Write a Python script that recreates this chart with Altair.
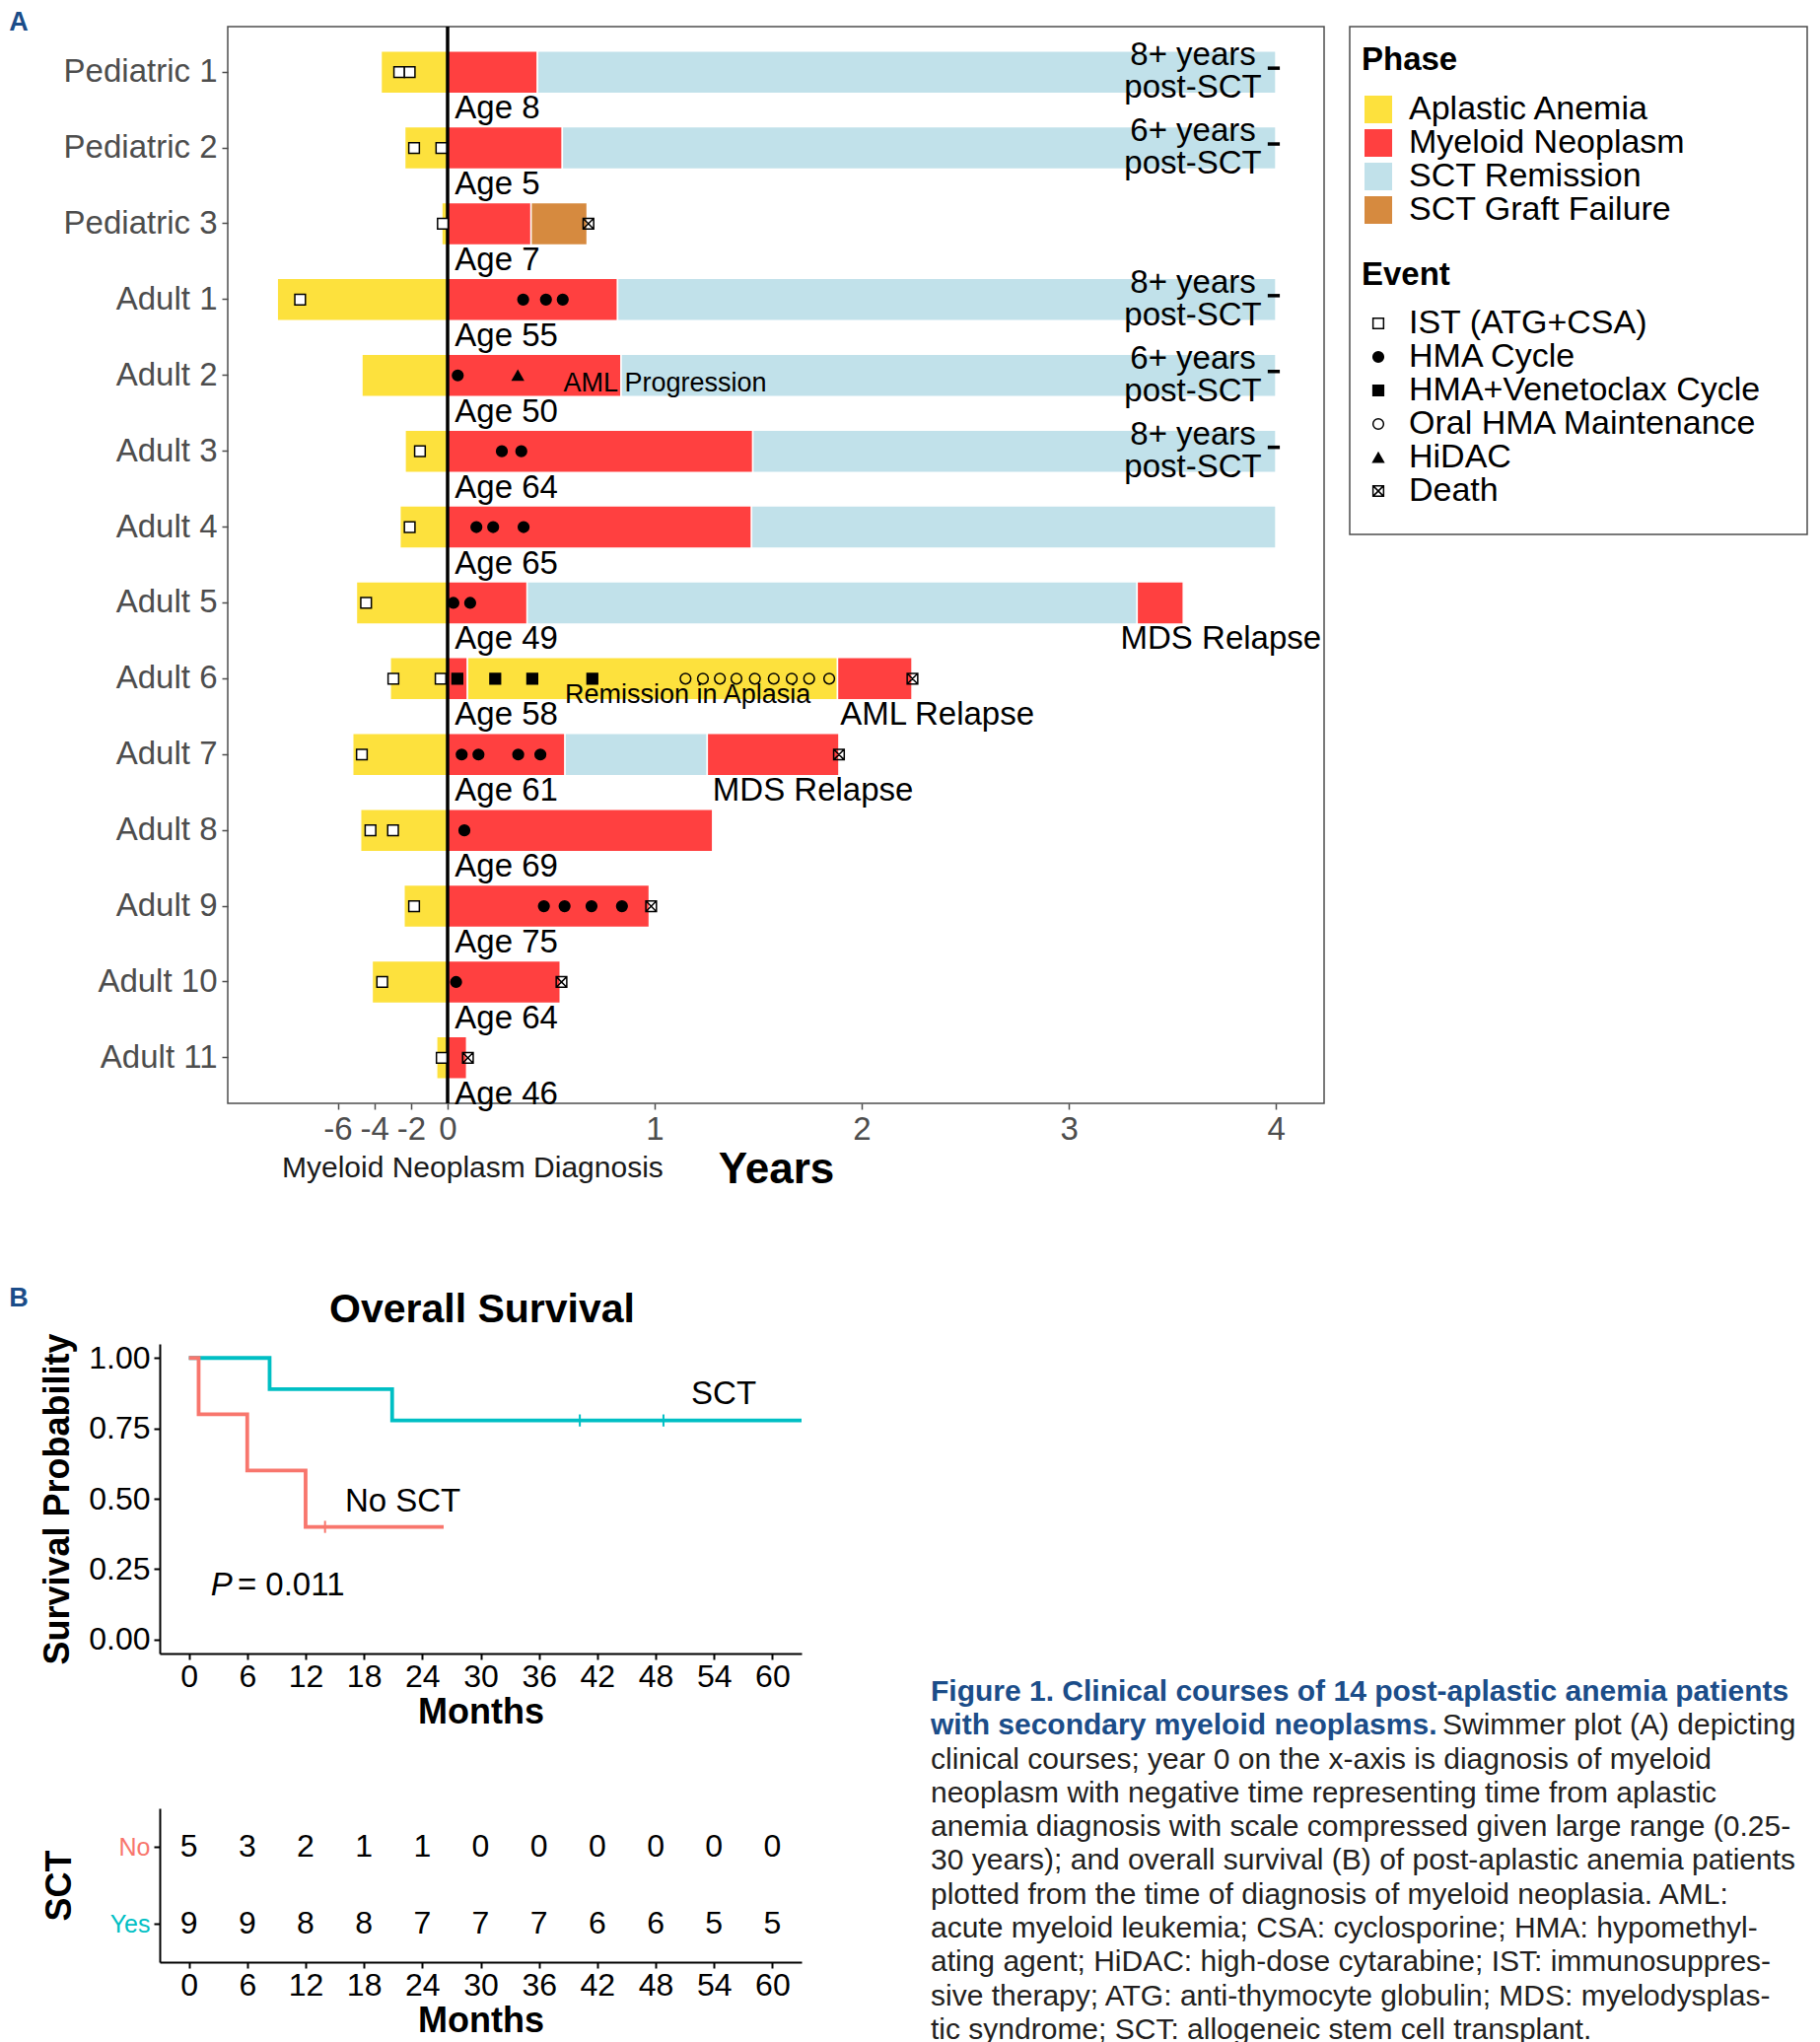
import altair as alt
import pandas as pd

FONT = "Liberation Sans"
BLUE = "#1B4D89"
GRAY = "#4D4D4D"

# ======================= Panel A : swimmer plot =======================
patients = ["Pediatric 1", "Pediatric 2", "Pediatric 3", "Adult 1", "Adult 2", "Adult 3",
            "Adult 4", "Adult 5", "Adult 6", "Adult 7", "Adult 8", "Adult 9", "Adult 10", "Adult 11"]
ages = [8, 5, 7, 55, 50, 64, 65, 49, 58, 61, 69, 75, 64, 46]
# years before myeloid-neoplasm diagnosis at which aplastic anemia was diagnosed
aa_onset = [-3.63, -2.34, -0.32, -9.30, -4.68, -2.32, -2.60, -4.98, -3.13, -5.18, -4.75, -2.38, -4.12, -0.60]

phase_names = ["Aplastic Anemia", "Myeloid Neoplasm", "SCT Remission", "SCT Graft Failure"]
phase_colors = ["#FDE13D", "#FF4040", "#C1E1EA", "#D68A3F"]

seg_patient = ["Pediatric 1", "Pediatric 1", "Pediatric 2", "Pediatric 2", "Pediatric 3", "Pediatric 3",
               "Adult 1", "Adult 1", "Adult 2", "Adult 2", "Adult 3", "Adult 3", "Adult 4", "Adult 4",
               "Adult 5", "Adult 5", "Adult 5", "Adult 6", "Adult 6", "Adult 6",
               "Adult 7", "Adult 7", "Adult 7", "Adult 8", "Adult 9", "Adult 10", "Adult 11"]
seg_phase = ["Myeloid Neoplasm", "SCT Remission", "Myeloid Neoplasm", "SCT Remission",
             "Myeloid Neoplasm", "SCT Graft Failure", "Myeloid Neoplasm", "SCT Remission",
             "Myeloid Neoplasm", "SCT Remission", "Myeloid Neoplasm", "SCT Remission",
             "Myeloid Neoplasm", "SCT Remission",
             "Myeloid Neoplasm", "SCT Remission", "Myeloid Neoplasm",
             "Myeloid Neoplasm", "Aplastic Anemia", "Myeloid Neoplasm",
             "Myeloid Neoplasm", "SCT Remission", "Myeloid Neoplasm",
             "Myeloid Neoplasm", "Myeloid Neoplasm", "Myeloid Neoplasm", "Myeloid Neoplasm"]
seg_start = [0, 0.434, 0, 0.554, 0, 0.403, 0, 0.821, 0, 0.838, 0, 1.474, 0, 1.468,
             0, 0.384, 3.33, 0, 0.096, 1.883, 0, 0.567, 1.254, 0, 0, 0, 0]
seg_end = [0.434, 4.0, 0.554, 4.0, 0.403, 0.674, 0.821, 4.0, 0.838, 4.0, 1.474, 4.0, 1.468, 4.0,
           0.384, 3.33, 3.553, 0.096, 1.883, 2.243, 0.567, 1.254, 1.89, 1.28, 0.974, 0.544, 0.092]

event_names = ["IST (ATG+CSA)", "HMA Cycle", "HMA+Venetoclax Cycle", "Oral HMA Maintenance", "HiDAC", "Death"]
DEATH_PATH = "M-1,-1L1,-1L1,1L-1,1Z M-1,-1L1,1 M1,-1L-1,1"
event_shapes = ["square", "circle", "square", "circle", "triangle-up", DEATH_PATH]
event_fills = ["white", "black", "black", "transparent", "black", "transparent"]
event_strokes = ["black"] * 6

ist_patient = ["Pediatric 1", "Pediatric 1", "Pediatric 2", "Pediatric 2", "Pediatric 3", "Adult 1",
               "Adult 3", "Adult 4", "Adult 5", "Adult 6", "Adult 6", "Adult 7", "Adult 8", "Adult 8",
               "Adult 9", "Adult 10", "Adult 11"]
ist_time = [-2.64, -2.07, -1.83, -0.34, -0.26, -8.05, -1.51, -2.07, -4.45, -2.96, -0.38, -4.68,
            -4.21, -2.98, -1.83, -3.57, -0.32]
hma_patient = ["Adult 1", "Adult 1", "Adult 1", "Adult 2", "Adult 3", "Adult 3", "Adult 4", "Adult 4",
               "Adult 4", "Adult 5", "Adult 5", "Adult 7", "Adult 7", "Adult 7", "Adult 7", "Adult 8",
               "Adult 9", "Adult 9", "Adult 9", "Adult 9", "Adult 10"]
hma_time = [0.365, 0.475, 0.556, 0.049, 0.262, 0.356, 0.139, 0.220, 0.367, 0.028, 0.109,
            0.068, 0.149, 0.341, 0.448, 0.081, 0.465, 0.565, 0.695, 0.842, 0.041]
ven_patient = ["Adult 6"] * 4
ven_time = [0.047, 0.230, 0.409, 0.699]
oral_patient = ["Adult 6"] * 9
oral_time = [1.149, 1.233, 1.315, 1.395, 1.484, 1.575, 1.662, 1.746, 1.843]
hidac_patient = ["Adult 2"]
hidac_time = [0.339]
death_patient = ["Pediatric 3", "Adult 6", "Adult 7", "Adult 9", "Adult 10", "Adult 11"]
death_time = [0.680, 2.245, 1.89, 0.983, 0.550, 0.098]

fu_patient = ["Pediatric 1", "Pediatric 2", "Adult 1", "Adult 2", "Adult 3"]
fu_text = ["8+ years\npost-SCT", "6+ years\npost-SCT", "8+ years\npost-SCT",
           "6+ years\npost-SCT", "8+ years\npost-SCT"]
fu_x = [3.60, 3.60, 3.60, 3.60, 3.60]
fu_end = [3.99, 3.99, 3.99, 3.99, 3.99]

relapse_patient = ["Adult 5", "Adult 6", "Adult 7"]
relapse_text = ["MDS Relapse", "AML Relapse", "MDS Relapse"]
relapse_x = [3.25, 1.896, 1.28]

prog_patient = ["Adult 2"]
prog_text = ["AML Progression"]
prog_x = [0.559]
aplasia_patient = ["Adult 6"]
aplasia_text = ["Remission in Aplasia"]
aplasia_x = [0.567]

# ---- tables ----
bars_df = pd.DataFrame({
    "patient": patients + seg_patient,
    "phase": ["Aplastic Anemia"] * len(patients) + seg_phase,
    "start": aa_onset + seg_start,
    "end": [0.0] * len(patients) + seg_end,
})
ev_df = pd.DataFrame({
    "patient": ist_patient + hma_patient + ven_patient + oral_patient + hidac_patient + death_patient,
    "event": ["IST (ATG+CSA)"] * len(ist_patient) + ["HMA Cycle"] * len(hma_patient)
             + ["HMA+Venetoclax Cycle"] * len(ven_patient) + ["Oral HMA Maintenance"] * len(oral_patient)
             + ["HiDAC"] * len(hidac_patient) + ["Death"] * len(death_patient),
    "time": ist_time + hma_time + ven_time + oral_time + hidac_time + death_time,
})
age_df = pd.DataFrame({"patient": patients, "label": [f"Age {a}" for a in ages], "x": [0.035] * len(patients)})
fu_df = pd.DataFrame({"patient": fu_patient, "label": fu_text, "x": fu_x, "xend": fu_end})
rel_df = pd.DataFrame({"patient": relapse_patient, "label": relapse_text, "x": relapse_x})
prog_df = pd.DataFrame({"patient": prog_patient, "label": prog_text, "x": prog_x})
apl_df = pd.DataFrame({"patient": aplasia_patient, "label": aplasia_text, "x": aplasia_x})

W_A, H_A = 1112, 1092

x_a = alt.X("start:Q",
            scale=alt.Scale(domain=[-12, 0, 4.233], range=[0, 223, W_A], nice=False, zero=False),
            axis=alt.Axis(values=[-6, -4, -2, 0, 1, 2, 3, 4],
                          labelExpr="datum.value < 0 ? '-' + abs(datum.value) : '' + datum.value",
                          title="Years", titleFontSize=44, titleFontWeight="bold", titleColor="black",
                          titlePadding=2, labelFontSize=33, labelColor=GRAY, tickColor=GRAY,
                          tickSize=6, tickWidth=1.5, labelPadding=4, domain=False, grid=False,
                          labelOverlap=False, labelFlush=False))
y_a = alt.Y("patient:N", title=None,
            scale=alt.Scale(domain=patients, paddingInner=0, paddingOuter=0.1),
            axis=alt.Axis(labelFontSize=33, labelColor=GRAY, tickColor=GRAY, tickSize=6, tickWidth=1.5,
                          labelPadding=5, domain=False, labelLimit=400, grid=False))

phase_legend = alt.Legend(title="Phase", orient="none", legendX=W_A + 38, legendY=18, direction="vertical",
                          padding=0, titleFontSize=33, titleFontWeight="bold", titleColor="black",
                          titlePadding=16, labelFontSize=34, labelColor="black", labelLimit=600,
                          symbolType="square", symbolSize=784, symbolStrokeWidth=0, labelOffset=14,
                          rowPadding=-1)
event_legend = alt.Legend(title="Event", orient="none", legendX=W_A + 38, legendY=236, direction="vertical",
                          padding=0, titleFontSize=33, titleFontWeight="bold", titleColor="black",
                          titlePadding=15, labelFontSize=34, labelColor="black", labelLimit=600,
                          symbolSize=115, symbolStrokeWidth=1.5, symbolOffset=0, labelOffset=14,
                          rowPadding=-1)

bars = alt.Chart(bars_df).mark_bar(size=43, stroke="white", strokeWidth=1.5).encode(
    x=x_a, x2="end:Q", y=y_a,
    color=alt.Color("phase:N", scale=alt.Scale(domain=phase_names, range=phase_colors), legend=phase_legend),
)
zero_line = alt.Chart(pd.DataFrame({"start": [0.0]})).mark_rule(color="black", strokeWidth=3.5).encode(x="start:Q")
points = alt.Chart(ev_df).mark_point(filled=True, size=115, strokeWidth=1.5, opacity=1).encode(
    x=alt.X("time:Q"), y="patient:N",
    shape=alt.Shape("event:N", scale=alt.Scale(domain=event_names, range=event_shapes), legend=event_legend),
    fill=alt.Fill("event:N", scale=alt.Scale(domain=event_names, range=event_fills), legend=event_legend),
    stroke=alt.Stroke("event:N", scale=alt.Scale(domain=event_names, range=event_strokes), legend=event_legend),
)
age_text = alt.Chart(age_df).mark_text(align="left", baseline="middle", dy=37, fontSize=33, color="black").encode(
    x="x:Q", y="patient:N", text="label:N")
fu_text_layer = alt.Chart(fu_df).mark_text(align="center", baseline="middle", dy=-17, fontSize=33, color="black",
                                           lineBreak="\n", lineHeight=33).encode(
    x="x:Q", y="patient:N", text="label:N")
fu_dash = alt.Chart(fu_df).mark_point(shape="stroke", size=150, strokeWidth=3.5, color="black",
                                      opacity=1, yOffset=-4).encode(x="xend:Q", y="patient:N")
rel_layer = alt.Chart(rel_df).mark_text(align="left", baseline="middle", dy=37, fontSize=33, color="black").encode(
    x="x:Q", y="patient:N", text="label:N")
prog_layer = alt.Chart(prog_df).mark_text(align="left", baseline="middle", dy=8, fontSize=27, color="black").encode(
    x="x:Q", y="patient:N", text="label:N")
apl_layer = alt.Chart(apl_df).mark_text(align="left", baseline="middle", dy=17, fontSize=27, color="black").encode(
    x="x:Q", y="patient:N", text="label:N")
dx_note = alt.Chart(pd.DataFrame({"x": [0.121], "label": ["Myeloid Neoplasm Diagnosis"]})).mark_text(
    align="center", baseline="middle", fontSize=30, color="#1a1a1a").encode(
    x="x:Q", y=alt.value(H_A + 66), text="label:N")
legend_box = alt.Chart(pd.DataFrame({"k": [1]})).mark_rect(fillOpacity=0, stroke=GRAY, strokeWidth=1.5).encode(
    x=alt.value(W_A + 26), x2=alt.value(W_A + 490), y=alt.value(0), y2=alt.value(515))
tag_a = alt.Chart(pd.DataFrame({"t": ["A"]})).mark_text(
    fontSize=27, fontWeight="bold", color=BLUE, align="center", baseline="middle").encode(
    x=alt.value(-212), y=alt.value(-4), text="t:N")

panel_a = alt.layer(bars, zero_line, points, age_text, fu_text_layer, fu_dash, rel_layer, prog_layer,
                    apl_layer, dx_note, legend_box, tag_a).properties(
    width=W_A, height=H_A, view=alt.ViewBackground(stroke=GRAY, strokeWidth=1.5))

# ======================= Panel B : Kaplan-Meier =======================
sct_time = [0, 8.3, 20.9, 63]
sct_surv = [1.0, 0.889, 0.778, 0.778]
nosct_time = [0, 1.0, 6.0, 12.0, 26.2]
nosct_surv = [1.0, 0.8, 0.6, 0.4, 0.4]
cens_group = ["SCT", "SCT", "No SCT"]
cens_time = [40.2, 48.8, 14.0]
cens_surv = [0.778, 0.778, 0.4]

risk_times = [0, 6, 12, 18, 24, 30, 36, 42, 48, 54, 60]
risk_no = [5, 3, 2, 1, 1, 0, 0, 0, 0, 0, 0]
risk_yes = [9, 9, 8, 8, 7, 7, 7, 6, 6, 5, 5]

km_df = pd.DataFrame({"group": ["SCT"] * len(sct_time) + ["No SCT"] * len(nosct_time),
                      "time": sct_time + nosct_time, "surv": sct_surv + nosct_surv})
cens_df = pd.DataFrame({"group": cens_group, "time": cens_time, "surv": cens_surv})
risk_df = pd.DataFrame({"group": ["No"] * len(risk_times) + ["Yes"] * len(risk_times),
                        "time": risk_times + risk_times, "n": risk_no + risk_yes})

# panel B sits 69 px left of panel A's frame: its x range starts before its own group origin
SHIFT = 69
W_B, H_KM, H_RISK = 651 - SHIFT, 314, 156
month_scale = alt.Scale(domain=[-3, 63], range=[-SHIFT, W_B], nice=False, zero=False)
group_colors = alt.Scale(domain=["No SCT", "SCT"], range=["#F8766D", "#00BFC4"])


def months_axis():
    return alt.Axis(values=risk_times, title="Months", titleFontSize=36, titleFontWeight="bold",
                    titleColor="black", titlePadding=3, labelFontSize=32, labelColor="black",
                    tickColor="black", tickSize=6, tickWidth=2, labelPadding=2, domainColor="black",
                    domainWidth=2, grid=False, labelOverlap=False, labelFlush=False)


x_km = alt.X("time:Q", scale=month_scale, axis=months_axis())
y_km = alt.Y("surv:Q", scale=alt.Scale(domain=[-0.05, 1.05], nice=False, zero=False),
             axis=alt.Axis(values=[0, 0.25, 0.5, 0.75, 1.0], format=".2f", title="Survival Probability",
                           titleFontSize=36, titleFontWeight="bold", titleColor="black", titlePadding=12,
                           labelFontSize=32, labelColor="black", tickColor="black", tickSize=6, tickWidth=2,
                           labelPadding=4, domainColor="black", domainWidth=2, grid=False, offset=SHIFT,
                           labelOverlap=False, labelFlush=False))

km_lines = alt.Chart(km_df).mark_line(interpolate="step-after", strokeWidth=3.8).encode(
    x=x_km, y=y_km, color=alt.Color("group:N", scale=group_colors, legend=None))
km_cens = alt.Chart(cens_df).mark_point(shape="M0,-1L0,1", size=150, strokeWidth=2, opacity=1).encode(
    x="time:Q", y="surv:Q", color=alt.Color("group:N", scale=group_colors, legend=None))
km_labels = alt.Chart(pd.DataFrame({"time": [55.0, 22.0], "surv": [0.87, 0.49], "label": ["SCT", "No SCT"]})
                      ).mark_text(fontSize=33, color="black", align="center", baseline="middle").encode(
    x="time:Q", y="surv:Q", text="label:N")
p_italic = alt.Chart(pd.DataFrame({"time": [3.35], "surv": [0.19], "label": ["P"]})).mark_text(
    fontSize=33, fontStyle="italic", color="black", align="center", baseline="middle").encode(
    x="time:Q", y="surv:Q", text="label:N")
p_value = alt.Chart(pd.DataFrame({"time": [5.0], "surv": [0.19], "label": ["= 0.011"]})).mark_text(
    fontSize=33, color="black", align="left", baseline="middle").encode(
    x="time:Q", y="surv:Q", text="label:N")
tag_b = alt.Chart(pd.DataFrame({"t": ["B"]})).mark_text(
    fontSize=27, fontWeight="bold", color=BLUE, align="center", baseline="middle").encode(
    x=alt.value(-212), y=alt.value(-46), text="t:N")
km_title = alt.Chart(pd.DataFrame({"t": ["Overall Survival"]})).mark_text(
    fontSize=41, fontWeight="bold", color="black", align="center", baseline="middle").encode(
    x=alt.value(258), y=alt.value(-34), text="t:N")

km = alt.layer(km_lines, km_cens, km_labels, p_italic, p_value, tag_b, km_title).properties(
    width=W_B, height=H_KM)

risk = alt.Chart(risk_df).mark_text(fontSize=32, color="black", align="center", baseline="middle").encode(
    x=alt.X("time:Q", scale=month_scale, axis=months_axis()),
    y=alt.Y("group:N", scale=alt.Scale(domain=["No", "Yes"], paddingInner=0, paddingOuter=0.1),
            axis=alt.Axis(title="SCT", titleFontSize=36, titleFontWeight="bold", titleColor="black",
                          titlePadding=32, labelFontSize=25, tickColor="black", tickSize=6, tickWidth=2,
                          labelPadding=4, domainColor="black", domainWidth=2, grid=False, offset=SHIFT,
                          labelColor={"condition": {"test": "datum.value === 'No'", "value": "#F8766D"},
                                      "value": "#00BFC4"})),
    text=alt.Text("n:Q", format="d"),
).properties(width=W_B, height=H_RISK)

# ======================= Caption =======================
cap_lines = [
    "Figure 1. Clinical courses of 14 post-aplastic anemia patients",
    "with secondary myeloid neoplasms.",
    "clinical courses; year 0 on the x-axis is diagnosis of myeloid",
    "neoplasm with negative time representing time from aplastic",
    "anemia diagnosis with scale compressed given large range (0.25-",
    "30 years); and overall survival (B) of post-aplastic anemia patients",
    "plotted from the time of diagnosis of myeloid neoplasia. AML:",
    "acute myeloid leukemia; CSA: cyclosporine; HMA: hypomethyl-",
    "ating agent; HiDAC: high-dose cytarabine; IST: immunosuppres-",
    "sive therapy; ATG: anti-thymocyte globulin; MDS: myelodysplas-",
    "tic syndrome; SCT: allogeneic stem cell transplant.",
]
cap_tail = "Swimmer plot (A) depicting"

CAP_H = 690
cap_df = pd.DataFrame({"line": list(range(len(cap_lines))), "text": cap_lines})
y_cap = alt.Y("line:Q", scale=alt.Scale(domain=[-10.29, -10.29 + CAP_H / 34.3], reverse=True,
                                        nice=False, zero=False), axis=None)
cap_bold = alt.Chart(cap_df[cap_df.line < 2]).mark_text(
    align="left", baseline="middle", fontSize=30, fontWeight="bold", color=BLUE).encode(
    x=alt.value(0), y=y_cap, text="text:N")
cap_reg = alt.Chart(cap_df[cap_df.line >= 2]).mark_text(
    align="left", baseline="middle", fontSize=30, color="#231F20").encode(
    x=alt.value(0), y="line:Q", text="text:N")
cap_tail_layer = alt.Chart(pd.DataFrame({"line": [1], "text": [cap_tail]})).mark_text(
    align="left", baseline="middle", fontSize=30, color="#231F20").encode(
    x=alt.value(519), y="line:Q", text="text:N")
caption = alt.layer(cap_bold, cap_reg, cap_tail_layer).properties(width=870, height=CAP_H)

# ======================= Layout =======================
b_stack = alt.vconcat(km, risk, spacing=80)
bottom = alt.hconcat(b_stack, caption, spacing=62)
chart = alt.vconcat(panel_a, bottom, spacing=94).resolve_scale(
    color="independent", shape="independent", fill="independent", stroke="independent"
).properties(padding=0).configure(font=FONT).configure_view(strokeWidth=0)

chart.save("out.html", embed_options={"renderer": "svg", "actions": False})
